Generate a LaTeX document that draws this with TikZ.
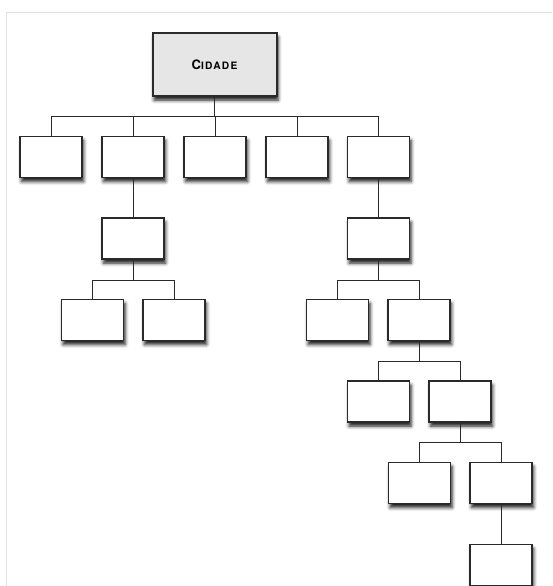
\documentclass[tikz,border=0pt]{standalone}
\usepackage{fontspec}
\setmainfont{TeX Gyre Heros}
\usetikzlibrary{shadows.blur}
\definecolor{framegray}{HTML}{E2E2E2}
\definecolor{topfill}{HTML}{E6E6E6}
\definecolor{boxline}{HTML}{2A2A2A}
\tikzset{
  orgbox/.style={draw=boxline, line width=1.3pt, fill=white, minimum width=62pt, minimum height=41pt, inner sep=0pt,
    blur shadow={shadow xshift=1.5pt, shadow yshift=-4pt, shadow blur radius=3.5pt, shadow opacity=90}},
  topbox/.style={orgbox, line width=2pt, fill=topfill, minimum width=124pt, minimum height=63pt},
  conn/.style={draw=boxline, line width=1pt}
}
\begin{document}
\begin{tikzpicture}[x=1pt,y=-1pt]
\useasboundingbox (0,0) rectangle (552,586);
\begin{scope}
\clip (0,0) rectangle (552,586);
\draw[framegray, line width=1pt] (6,13) rectangle (570,600);
\end{scope}
% bus coordinates
\coordinate (b1) at (0,116.5);
\coordinate (b2) at (0,280);
\coordinate (b3) at (0,361);
\coordinate (b4) at (0,442);
% nodes
\node[topbox] (top) at (214.5,64.5) {\bfseries\addfontfeatures{LetterSpace=12}{\fontsize{13}{13}\selectfont C}{\fontsize{10.2}{10}\selectfont IDADE}};
\node[orgbox] (r1a) at (51,157) {};
\node[orgbox] (r1b) at (133,157) {};
\node[orgbox] (r1c) at (215,157) {};
\node[orgbox] (r1d) at (297,157) {};
\node[orgbox] (r1e) at (378.5,157) {};
\node[orgbox] (r2a) at (133,238.5) {};
\node[orgbox] (r2b) at (378.5,238.5) {};
\node[orgbox] (r3a) at (92.5,320) {};
\node[orgbox] (r3b) at (174,320) {};
\node[orgbox] (r3c) at (337.5,320) {};
\node[orgbox] (r3d) at (419,320) {};
\node[orgbox] (r4a) at (378.5,401.5) {};
\node[orgbox] (r4b) at (460,401.5) {};
\node[orgbox] (r5a) at (419.5,483) {};
\node[orgbox] (r5b) at (501,483) {};
\node[orgbox] (r6a) at (501,565) {};
% connectors
\foreach \c in {r1a,r1b,r1c,r1d,r1e}
  \draw[conn] (top.south) -- (top.south |- b1) -| (\c.north);
\draw[conn] (r1b.south) -- (r2a.north);
\draw[conn] (r1e.south) -- (r2b.north);
\foreach \c in {r3a,r3b}
  \draw[conn] (r2a.south) -- (r2a.south |- b2) -| (\c.north);
\foreach \c in {r3c,r3d}
  \draw[conn] (r2b.south) -- (r2b.south |- b2) -| (\c.north);
\foreach \c in {r4a,r4b}
  \draw[conn] (r3d.south) -- (r3d.south |- b3) -| (\c.north);
\foreach \c in {r5a,r5b}
  \draw[conn] (r4b.south) -- (r4b.south |- b4) -| (\c.north);
\draw[conn] (r5b.south) -- (r6a.north);
\end{tikzpicture}
\end{document}
